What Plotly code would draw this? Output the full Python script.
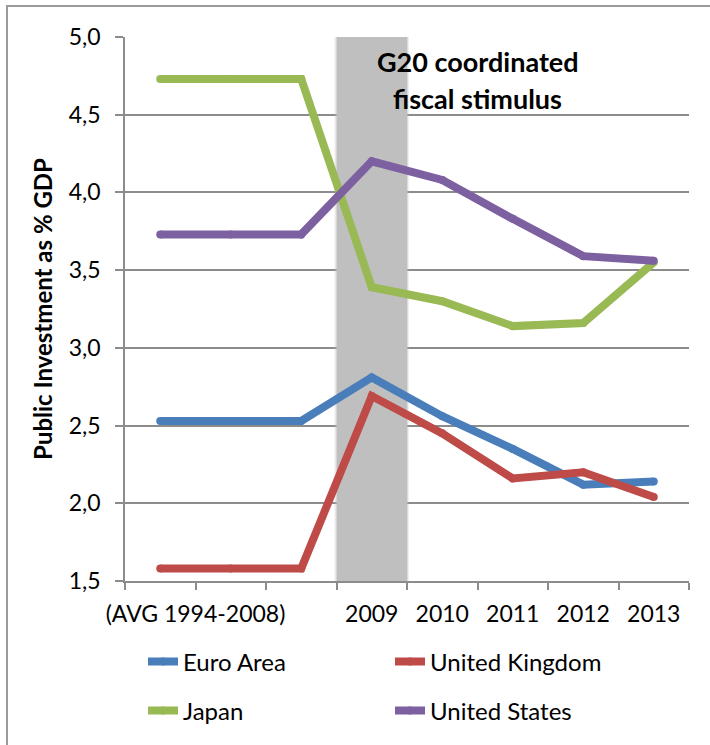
import numpy as np
import plotly.graph_objects as go

# Periods: the 1994-2008 average is held flat across the first three slots
periods = ["1994-2008", "1994-2008", "1994-2008", "2009", "2010", "2011", "2012", "2013"]
tick_labels = ["(AVG 1994-2008)", "2009", "2010", "2011", "2012", "2013"]

# Public investment as % of GDP
euro_area = [2.53, 2.53, 2.53, 2.81, 2.56, 2.35, 2.12, 2.14]
united_kingdom = [1.58, 1.58, 1.58, 2.69, 2.45, 2.16, 2.20, 2.04]
japan = [4.73, 4.73, 4.73, 3.39, 3.30, 3.14, 3.16, 3.55]
united_states = [3.73, 3.73, 3.73, 4.20, 4.08, 3.83, 3.59, 3.56]

stimulus_year = "2009"

series = [
    ("Euro Area", euro_area, "#4a7ebb", "legend"),
    ("United Kingdom", united_kingdom, "#be4b48", "legend"),
    ("Japan", japan, "#98b954", "legend2"),
    ("United States", united_states, "#7d60a0", "legend2"),
]

FONT = "Lato"
GRID = "#8c8c8c"

idx = np.arange(len(periods))
n = len(periods)

fig = go.Figure()
for name, vals, color, leg in series:
    fig.add_trace(go.Scatter(
        x=idx, y=vals, name=name, mode="lines+markers",
        line=dict(color=color, width=8),
        marker=dict(color=color, size=8, line=dict(width=0)),
        legend=leg, hoverinfo="skip",
    ))

# Shaded period of the G20 coordinated stimulus, with softened edges
s = periods.index(stimulus_year)
fig.add_shape(type="rect", xref="x", yref="y", x0=s - 0.5, x1=s + 0.5,
              y0=1.5, y1=5.0, fillcolor="#bfbfbf", line=dict(width=0), layer="between")
for off, op in [(0.014, 0.55), (0.028, 0.25)]:
    fig.add_shape(type="rect", xref="x", yref="y", x0=s - 0.5 - off, x1=s - 0.5 - off + 0.014,
                  y0=1.5, y1=5.0, fillcolor="#bfbfbf", opacity=op, line=dict(width=0), layer="between")
    fig.add_shape(type="rect", xref="x", yref="y", x0=s + 0.5 + off - 0.014, x1=s + 0.5 + off,
                  y0=1.5, y1=5.0, fillcolor="#bfbfbf", opacity=op, line=dict(width=0), layer="between")

for text, py in [("<b>G20 coordinated</b>", 62), ("<b>fiscal stimulus</b>", 98)]:
    fig.add_annotation(text=text, x=s + 1.5, xref="x", y=(581 - py) / 544, yref="paper",
                       showarrow=False, font=dict(family=FONT, size=27, color="#000000"),
                       xanchor="center", yanchor="middle")

# Outer chart border (left and top edges visible)
fig.add_shape(type="rect", xref="paper", yref="paper",
              x0=(7 - 125) / 564, x1=(712 - 125) / 564,
              y0=(581 - 748) / 544, y1=(581 - 6) / 544,
              line=dict(color="#9a9a9a", width=2), fillcolor="rgba(0,0,0,0)", layer="above")

label_pos = [0.5] + [periods.index(t) for t in tick_labels[1:]]

fig.update_layout(
    width=710, height=745,
    margin=dict(l=125, r=21, t=37, b=164),
    paper_bgcolor="white", plot_bgcolor="white",
    separators=",.",
    font=dict(family=FONT, size=23, color="#000000"),
    xaxis=dict(
        range=[-0.5, n - 0.5], showgrid=False, zeroline=False,
        showline=True, linecolor=GRID, linewidth=1.5,
        tickmode="array", tickvals=list(np.arange(-0.5, n, 1.0)),
        showticklabels=False, ticks="outside", ticklen=7, tickwidth=1.5, tickcolor=GRID,
    ),
    xaxis2=dict(
        overlaying="x", anchor="y", side="bottom",
        range=[-0.5, n - 0.5], showgrid=False, zeroline=False, showline=False,
        tickmode="array", tickvals=label_pos, ticktext=tick_labels, ticks="",
        ticklabelstandoff=17,
        tickfont=dict(family=FONT, size=23, color="#000000"),
    ),
    yaxis=dict(
        range=[1.5, 5.0], dtick=0.5, tick0=1.5, tickformat=".1f",
        showgrid=True, gridcolor=GRID, gridwidth=1.5, zeroline=False,
        showline=True, linecolor=GRID, linewidth=1.5,
        ticks="outside", ticklen=8, tickwidth=1.5, tickcolor=GRID,
        ticklabelstandoff=10,
        tickfont=dict(family=FONT, size=23, color="#000000"),
        title=dict(text="<b>Public Investment as % GDP</b>", standoff=9,
                   font=dict(family=FONT, size=24, color="#000000")),
    ),
    legend=dict(orientation="h", x=(143 - 125) / 564, xanchor="left",
                y=(581 - 662) / 544, yanchor="middle",
                entrywidth=202, entrywidthmode="pixels",
                font=dict(family=FONT, size=24, color="#000000"), bgcolor="rgba(0,0,0,0)"),
    legend2=dict(orientation="h", x=(143 - 125) / 564, xanchor="left",
                 y=(581 - 711) / 544, yanchor="middle",
                 entrywidth=202, entrywidthmode="pixels",
                 font=dict(family=FONT, size=24, color="#000000"), bgcolor="rgba(0,0,0,0)"),
    showlegend=True,
)
# Empty trace so the label axis is attached to the plot
fig.add_trace(go.Scatter(x=[None], y=[None], xaxis="x2", yaxis="y", showlegend=False, hoverinfo="skip"))

fig.write_html("out.html")
